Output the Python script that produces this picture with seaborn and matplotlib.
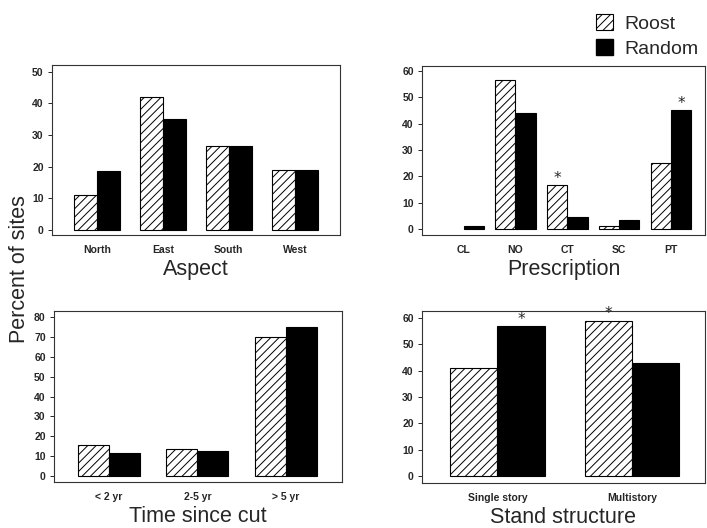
import pandas as pd
import seaborn as sns
import matplotlib.pyplot as plt
from matplotlib.patches import Patch

# ---- data ----
groups = ["Roost", "Random"]

aspect_cats = ["North", "East", "South", "West"]
aspect_roost = [11, 42, 26.5, 19]
aspect_random = [18.5, 35, 26.5, 19]

presc_cats = ["CL", "NO", "CT", "SC", "PT"]
presc_roost = [0, 56.5, 16.5, 1, 25]
presc_random = [1, 44, 4.5, 3.5, 45]
presc_stars = [("CT", "Roost"), ("PT", "Random")]

time_cats = ["< 2 yr", "2-5 yr", "> 5 yr"]
time_roost = [15.5, 13.5, 70]
time_random = [11.5, 12.5, 75]

stand_cats = ["Single story", "Multistory"]
stand_roost = [41, 59]
stand_random = [57, 43]
stand_stars = [("Single story", "Random"), ("Multistory", "Roost")]

sns.set_style("ticks")
plt.rcParams["font.family"] = ["Liberation Sans", "DejaVu Sans"]
plt.rcParams["hatch.linewidth"] = 0.7


def long_df(cats, roost, random):
    return pd.DataFrame({
        "cat": cats * 2,
        "group": ["Roost"] * len(cats) + ["Random"] * len(cats),
        "val": list(roost) + list(random),
    })


def panel(ax, cats, roost, random, width, xlim, ylim, yticks, xlabel, stars=()):
    df = long_df(cats, roost, random)
    sns.barplot(data=df, x="cat", y="val", hue="group", order=cats,
                hue_order=groups, width=width, errorbar=None, legend=False,
                palette=["white", "black"], edgecolor="black",
                linewidth=0.8, saturation=1, ax=ax)
    for bar in ax.containers[0]:
        bar.set_facecolor("white")
        bar.set_hatch("////")
    for cont in ax.containers:
        for bar in cont:
            if bar.get_height() == 0:
                bar.set_visible(False)
    for cat, grp in stars:
        bar = ax.containers[groups.index(grp)][cats.index(cat)]
        ax.annotate("*", xy=(bar.get_x() + bar.get_width() / 2, bar.get_height()),
                    xytext=(0, 5), textcoords="offset points",
                    ha="center", va="center", fontsize=11,
                    family="DejaVu Sans", annotation_clip=False)
    ax.set_xlim(*xlim)
    ax.set_ylim(*ylim)
    ax.set_yticks(yticks)
    ax.set_xlabel(xlabel, fontsize=15.5, labelpad=3)
    ax.set_ylabel("")
    ax.tick_params(axis="x", length=0, pad=7, labelsize=7.5)
    ax.tick_params(axis="y", length=3, width=0.7, pad=3, labelsize=7.5)
    for lab in ax.get_xticklabels() + ax.get_yticklabels():
        lab.set_fontweight("bold")
    for sp in ax.spines.values():
        sp.set_linewidth(0.8)
        sp.set_color("#333333")


fig = plt.figure(figsize=(7.07, 5.28), dpi=100)
ax1 = fig.add_axes([0.0735, 0.555, 0.407, 0.322])
ax2 = fig.add_axes([0.597, 0.555, 0.400, 0.320])
ax3 = fig.add_axes([0.0764, 0.087, 0.407, 0.324])
ax4 = fig.add_axes([0.597, 0.085, 0.400, 0.326])

panel(ax1, aspect_cats, aspect_roost, aspect_random, 0.7,
      (-0.68, 3.68), (-1.6, 52.2), range(0, 51, 10), "Aspect")
panel(ax2, presc_cats, presc_roost, presc_random, 0.78,
      (-0.8, 4.65), (-2.3, 61.9), range(0, 61, 10), "Prescription", presc_stars)
panel(ax3, time_cats, time_roost, time_random, 0.7,
      (-0.62, 2.63), (-3.0, 83), range(0, 81, 10), "Time since cut")
panel(ax4, stand_cats, stand_roost, stand_random, 0.7,
      (-0.56, 1.54), (-2.7, 62.7), range(0, 61, 10), "Stand structure", stand_stars)

fig.text(0.028, 0.49, "Percent of sites", rotation=90, ha="center", va="center",
         fontsize=15.5)

handles = [Patch(facecolor="white", edgecolor="black", hatch="////", linewidth=0.8),
           Patch(facecolor="black", edgecolor="black")]
fig.legend(handles, groups, loc="upper right", bbox_to_anchor=(1.005, 0.995),
           frameon=False, fontsize=14, handlelength=0.9, handleheight=0.9,
           handletextpad=0.6, labelspacing=0.3, borderaxespad=0.2)

fig.savefig("out.png", dpi=100)
